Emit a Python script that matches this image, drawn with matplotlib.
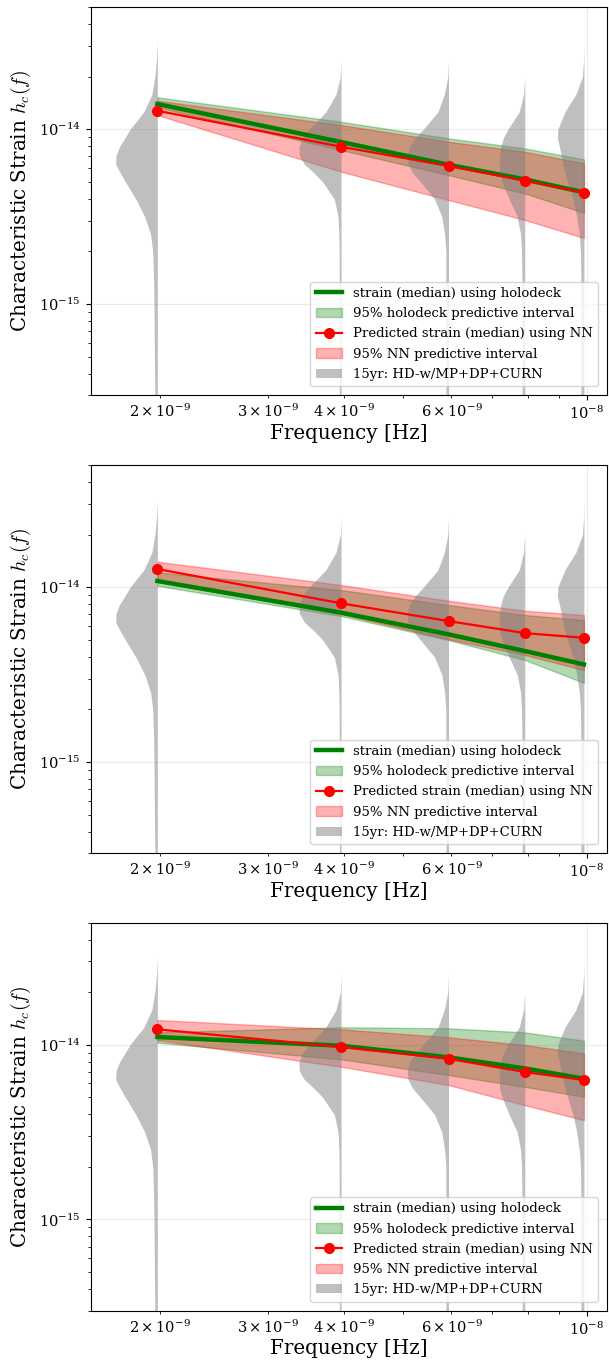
import numpy as np
import matplotlib
matplotlib.use('Agg')
import matplotlib.pyplot as plt
from matplotlib.patches import Patch

plt.rcParams['font.family'] = 'serif'
plt.rcParams['font.serif'] = ['DejaVu Serif']
plt.rcParams['mathtext.fontset'] = 'cm'

# ---------------- data ----------------
freqs = [1.978e-9, 3.956e-9, 5.934e-9, 7.912e-9, 9.890e-9]

# panel 1
holo_med_1 = [1.396e-14, 8.46e-15, 6.27e-15, 5.17e-15, 4.36e-15]
holo_lo_1 = [1.336e-14, 7.61e-15, 5.47e-15, 4.30e-15, 3.33e-15]
holo_hi_1 = [1.525e-14, 1.105e-14, 8.88e-15, 7.78e-15, 6.73e-15]
nn_med_1 = [1.278e-14, 7.95e-15, 6.17e-15, 5.08e-15, 4.34e-15]
nn_lo_1 = [1.207e-14, 5.72e-15, 3.94e-15, 3.03e-15, 2.39e-15]
nn_hi_1 = [1.458e-14, 1.058e-14, 8.49e-15, 7.44e-15, 6.39e-15]

# panel 2
holo_med_2 = [1.087e-14, 7.16e-15, 5.38e-15, 4.32e-15, 3.62e-15]
holo_lo_2 = [1.021e-14, 6.85e-15, 4.99e-15, 3.84e-15, 2.84e-15]
holo_hi_2 = [1.219e-14, 9.65e-15, 7.92e-15, 6.94e-15, 6.50e-15]
nn_med_2 = [1.273e-14, 8.10e-15, 6.41e-15, 5.47e-15, 5.14e-15]
nn_lo_2 = [1.077e-14, 7.04e-15, 5.04e-15, 4.10e-15, 3.36e-15]
nn_hi_2 = [1.402e-14, 1.031e-14, 8.38e-15, 7.35e-15, 6.94e-15]

# panel 3
holo_med_3 = [1.107e-14, 9.87e-15, 8.47e-15, 7.32e-15, 6.39e-15]
holo_lo_3 = [1.027e-14, 8.25e-15, 6.71e-15, 5.74e-15, 5.04e-15]
holo_hi_3 = [1.177e-14, 1.258e-14, 1.242e-14, 1.177e-14, 1.055e-14]
nn_med_3 = [1.225e-14, 9.70e-15, 8.31e-15, 6.98e-15, 6.28e-15]
nn_lo_3 = [1.064e-14, 7.48e-15, 5.88e-15, 4.51e-15, 3.70e-15]
nn_hi_3 = [1.385e-14, 1.225e-14, 1.103e-14, 9.96e-15, 8.93e-15]

# NANOGrav 15yr free-spectrum posterior (half-violins), log10(h_c) grid and density
violin_log_hc = [-13.50, -13.60, -13.70, -13.80, -13.90, -14.00, -14.05, -14.10, -14.15,
                 -14.20, -14.25, -14.30, -14.40, -14.50, -14.60, -14.70, -14.85, -15.00,
                 -15.30, -15.60]
violin_dens_1 = [0.00, 0.02, 0.06, 0.13, 0.32, 0.65, 0.77, 0.90, 0.98, 0.99, 0.88, 0.76,
                 0.51, 0.30, 0.16, 0.11, 0.09, 0.08, 0.07, 0.055]
violin_dens_2 = [0.00, 0.00, 0.017, 0.12, 0.36, 0.76, 0.92, 1.00, 0.99, 0.87, 0.64, 0.44,
                 0.16, 0.071, 0.052, 0.045, 0.043, 0.04, 0.04, 0.04]
violin_dens_3 = [0.00, 0.00, 0.017, 0.10, 0.25, 0.60, 0.79, 0.93, 0.98, 0.96, 0.85, 0.67,
                 0.33, 0.16, 0.093, 0.064, 0.064, 0.062, 0.06, 0.06]
violin_dens_4 = [0.00, 0.00, 0.00, 0.029, 0.13, 0.40, 0.51, 0.57, 0.60, 0.60, 0.60, 0.54,
                 0.37, 0.18, 0.10, 0.076, 0.069, 0.064, 0.062, 0.062]
violin_dens_5 = [0.00, 0.007, 0.036, 0.19, 0.45, 0.62, 0.63, 0.58, 0.54, 0.50, 0.45, 0.39,
                 0.26, 0.17, 0.11, 0.081, 0.074, 0.071, 0.071, 0.071]

labels = ['strain (median) using holodeck',
          '95% holodeck predictive interval',
          'Predicted strain (median) using NN',
          '95% NN predictive interval',
          '15yr: HD-w/MP+DP+CURN']

# ---------------- figure ----------------
W, H = 609, 1360
fig = plt.figure(figsize=(W / 100, H / 100), dpi=100)

ax_left = 90.5 / W
ax_w = (607 - 90.5) / W
ax_h = 388.2 / H
tops = [7.2, 465.2, 922.6]

panels = [
    (holo_med_1, holo_lo_1, holo_hi_1, nn_med_1, nn_lo_1, nn_hi_1),
    (holo_med_2, holo_lo_2, holo_hi_2, nn_med_2, nn_lo_2, nn_hi_2),
    (holo_med_3, holo_lo_3, holo_hi_3, nn_med_3, nn_lo_3, nn_hi_3),
]
violins = [violin_dens_1, violin_dens_2, violin_dens_3, violin_dens_4, violin_dens_5]
VW = 42.0 / 608.0  # max half-width in decades

f = np.array(freqs)
for top, (hm, hl, hh, nm, nl, nh) in zip(tops, panels):
    bottom = 1 - (top + 388.2) / H
    ax = fig.add_axes([ax_left, bottom, ax_w, ax_h])
    ax.set_xscale('log')
    ax.set_yscale('log')

    ax.plot(f, hm, color='green', lw=3.2, label=labels[0], zorder=3)
    ax.fill_between(f, hl, hh, color='green', alpha=0.3, label=labels[1], zorder=2)
    ax.plot(f, nm, color='red', lw=1.6, marker='o', ms=7, label=labels[2], zorder=4)
    ax.fill_between(f, nl, nh, color='red', alpha=0.3, label=labels[3], zorder=2)

    yv = 10 ** np.array(violin_log_hc)
    for fi, dens in zip(freqs, violins):
        xl = fi * 10 ** (-VW * np.array(dens))
        ax.fill_betweenx(yv, xl, fi, color='gray', alpha=0.5, lw=0, zorder=2.5)

    ax.set_xlim(1.537e-9, 1.079e-8)
    ax.set_ylim(3e-16, 5e-14)
    ax.grid(True, which='major', color='0.92', lw=0.8)

    handles, labs = ax.get_legend_handles_labels()
    handles.append(Patch(facecolor='gray', alpha=0.5, lw=0))
    labs.append(labels[4])
    ax.legend(handles, labs, loc='lower right', fontsize=9.5, labelspacing=0.55,
              borderaxespad=0.7, framealpha=0.8)

    ax.set_xlabel('Frequency [Hz]', fontsize=14.3, labelpad=1.0)
    ax.set_ylabel('Characteristic Strain $h_c(f)$', fontsize=14.3)
    ax.tick_params(axis='both', which='both', labelsize=10.5)

fig.savefig('out.png', dpi=100)
